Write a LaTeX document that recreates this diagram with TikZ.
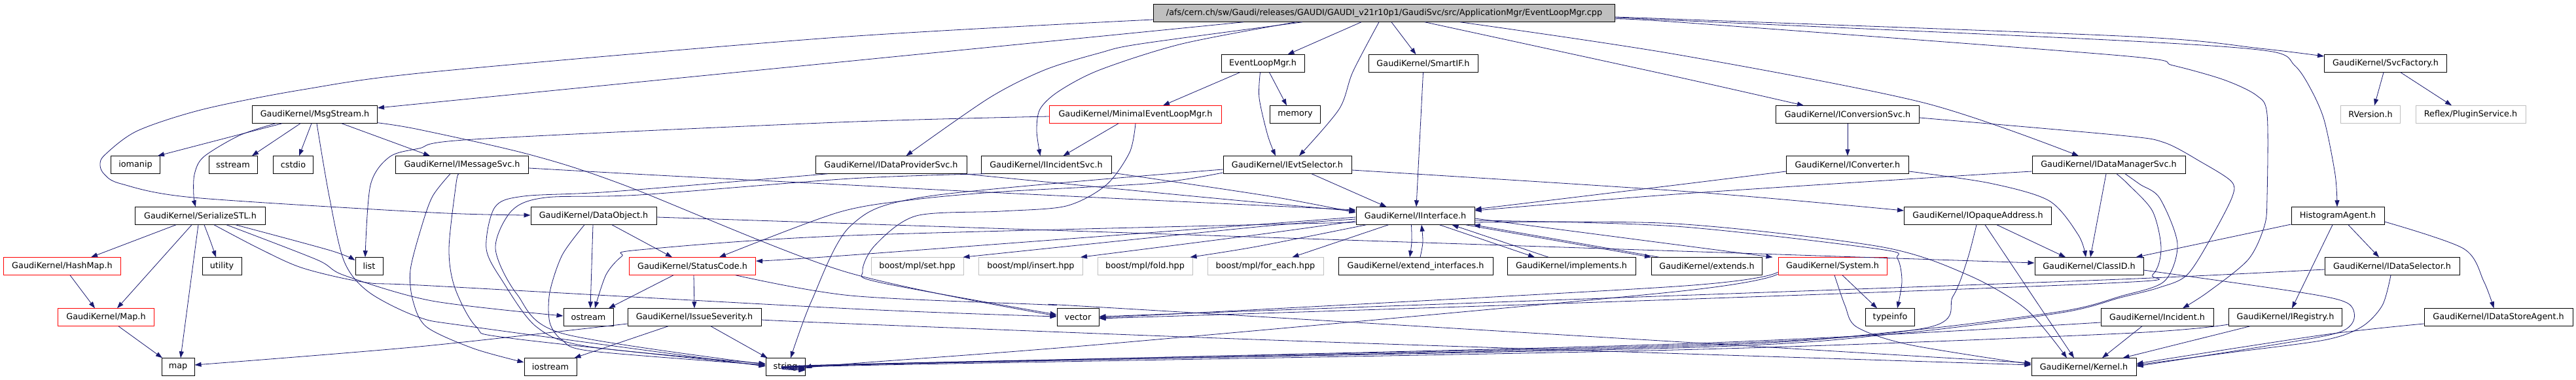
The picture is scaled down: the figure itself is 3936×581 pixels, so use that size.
\documentclass[tikz,border=0pt]{standalone}
\usepackage{fontspec}
\usetikzlibrary{arrows.meta}
\newfontfamily\nodefont{DejaVu Sans}
\definecolor{edgec}{HTML}{191970}
\definecolor{grayfill}{HTML}{BFBFBF}
\tikzset{
  nd/.style={draw=black, line width=1pt, inner sep=0pt, minimum height=26.5pt,
             font={\nodefont\fontsize{12.8pt}{15pt}\selectfont}, fill=white},
  rednd/.style={nd, draw=red},
  graynd/.style={nd, draw=grayfill},
  rootnd/.style={nd, fill=grayfill},
  e/.style={draw=edgec, line width=0.8pt, -{Triangle[length=10pt,width=7pt]}},
}
\begin{document}
\begin{tikzpicture}[x=1pt,y=-1pt]
\useasboundingbox (0,0) rectangle (3936,581);
% ---------- nodes ----------
\node[rootnd, minimum width=705pt] (root) at (2115,20) {/afs/cern.ch/sw/Gaudi/releases/GAUDI/GAUDI\_v21r10p1/GaudiSvc/src/ApplicationMgr/EventLoopMgr.cpp};
\node[nd, minimum width=127pt] (elm) at (1929.5,97) {EventLoopMgr.h};
\node[nd, minimum width=167pt] (smartif) at (2174.5,97) {GaudiKernel/SmartIF.h};
\node[nd, minimum width=187pt] (svcf) at (3645,97) {GaudiKernel/SvcFactory.h};
\node[nd, minimum width=191pt] (msgs) at (481,175) {GaudiKernel/MsgStream.h};
\node[rednd, minimum width=263pt] (melm) at (1735,175) {GaudiKernel/MinimalEventLoopMgr.h};
\node[nd, minimum width=77pt] (memory) at (1979,175) {memory};
\node[nd, minimum width=219pt] (iconv) at (2823,175) {GaudiKernel/IConversionSvc.h};
\node[graynd, minimum width=91pt] (rver) at (3622,175) {RVersion.h};
\node[graynd, minimum width=168pt] (plugin) at (3775,175) {Reflex/PluginService.h};
\node[nd, minimum width=75pt] (iomanip) at (207,252) {iomanip};
\node[nd, minimum width=74pt] (sstream) at (356,252) {sstream};
\node[nd, minimum width=61pt] (cstdio) at (448,252) {cstdio};
\node[nd, minimum width=203pt] (imsg) at (706,252) {GaudiKernel/IMessageSvc.h};
\node[nd, minimum width=231pt] (idp) at (1361.5,252) {GaudiKernel/IDataProviderSvc.h};
\node[nd, minimum width=199pt] (iinc) at (1598.5,252) {GaudiKernel/IIncidentSvc.h};
\node[nd, minimum width=196pt] (ievt) at (1967,252) {GaudiKernel/IEvtSelector.h};
\node[nd, minimum width=187pt] (iconverter) at (2823,252) {GaudiKernel/IConverter.h};
\node[nd, minimum width=234pt] (idm) at (3222,252) {GaudiKernel/IDataManagerSvc.h};
\node[nd, minimum width=199pt] (ser) at (306,330) {GaudiKernel/SerializeSTL.h};
\node[nd, minimum width=192pt] (dobj) at (907,330) {GaudiKernel/DataObject.h};
\node[nd, minimum width=181pt] (iif) at (2162.5,330) {GaudiKernel/IInterface.h};
\node[nd, minimum width=225pt] (iopa) at (3022,330) {GaudiKernel/IOpaqueAddress.h};
\node[nd, minimum width=142pt] (hista) at (3572,330) {HistogramAgent.h};
\node[rednd, minimum width=179pt] (hashmap) at (95,407) {GaudiKernel/HashMap.h};
\node[nd, minimum width=60pt] (utility) at (339,407) {utility};
\node[nd, minimum width=42pt] (list) at (564,407) {list};
\node[rednd, minimum width=193pt] (sc) at (1058,407) {GaudiKernel/StatusCode.h};
\node[graynd, minimum width=141pt] (bset) at (1401.5,407) {boost/mpl/set.hpp};
\node[graynd, minimum width=159pt] (binsert) at (1575,407) {boost/mpl/insert.hpp};
\node[graynd, minimum width=145pt] (bfold) at (1749.5,407) {boost/mpl/fold.hpp};
\node[graynd, minimum width=177pt] (bforeach) at (1933.5,407) {boost/mpl/for\_each.hpp};
\node[nd, minimum width=236pt] (extif) at (2163,407) {GaudiKernel/extend\_interfaces.h};
\node[nd, minimum width=196pt] (impl) at (2401,407) {GaudiKernel/implements.h};
\node[nd, minimum width=169pt] (extends) at (2608,407) {GaudiKernel/extends.h};
\node[rednd, minimum width=166pt] (system) at (2800,407) {GaudiKernel/System.h};
\node[nd, minimum width=166pt] (classid) at (3192,407) {GaudiKernel/ClassID.h};
\node[nd, minimum width=206pt] (idsel) at (3655,407) {GaudiKernel/IDataSelector.h};
\node[rednd, minimum width=147pt] (mapH) at (162,485) {GaudiKernel/Map.h};
\node[nd, minimum width=76pt] (ostream) at (899,485) {ostream};
\node[nd, minimum width=204pt] (issue) at (1061,485) {GaudiKernel/IssueSeverity.h};
\node[nd, minimum width=64pt] (vector) at (1647,485) {vector};
\node[nd, minimum width=75pt] (typeinfo) at (2888,485) {typeinfo};
\node[nd, minimum width=172pt] (incident) at (3296,485) {GaudiKernel/Incident.h};
\node[nd, minimum width=173pt] (ireg) at (3492,485) {GaudiKernel/IRegistry.h};
\node[nd, minimum width=227pt] (idsa) at (3817.5,485) {GaudiKernel/IDataStoreAgent.h};
\node[nd, minimum width=50pt] (map) at (272,561) {map};
\node[nd, minimum width=80pt] (iostream) at (841,561) {iostream};
\node[nd, minimum width=60pt] (string) at (1200,561) {string};
\node[nd, minimum width=160pt] (kernel) at (3184,561) {GaudiKernel/Kernel.h};
% ---------- edges ----------
% root
\draw[e] ([xshift=-215pt]root.south) -- ([yshift=10pt]msgs.east);
\draw[e] plot[smooth] coordinates {([yshift=-10pt]root.west) (1280,57) (660,110) (463,137) (311,167) (210,200) (160,237) (153,253) (160,267) (185,281) (295,302) (660,325) ([yshift=1pt]dobj.west)};
\draw[e] plot[smooth] coordinates {([yshift=-6pt]root.east) (2580,30) (3260,56) (3453,74) ([yshift=11pt]svcf.west)};
\draw[e] plot[smooth] coordinates {([yshift=-7pt]root.east) (2580,32) (3240,62) (3466,78) (3506,100) (3529,133) (3551,183) (3568,267) ([xshift=-1pt]hista.north)};
\draw[e] plot[smooth] coordinates {([yshift=-9pt]root.east) (2580,35) (3240,85) (3320,100) (3398,122) (3448,146) (3464,175) (3464,300) (3460,345) (3435,397) (3373,447) ([xshift=39pt]incident.north)};
\draw[e] plot[smooth] coordinates {([xshift=116pt]root.south) (2560,83) (2939,157) ([xshift=-46pt]idm.north)};
\draw[e] plot[smooth] coordinates {([xshift=62pt]root.south) (2560,117) ([xshift=-67pt]iconv.north)};
\draw[e] ([xshift=-35pt]root.south) -- ([xshift=38pt]elm.north);
\draw[e] plot[smooth] coordinates {([xshift=-8pt]root.south) (2067,110) (2046,167) ([xshift=18pt]ievt.north)};
\draw[e] ([xshift=11pt]root.south) -- ([xshift=-11pt]smartif.north);
\draw[e] plot[smooth] coordinates {([xshift=-135pt]root.south) (1806,67) (1680,107) (1617,140) (1589,167) (1584,200) ([xshift=-9pt]iinc.north)};
\draw[e] plot[smooth] coordinates {([xshift=-125pt]root.south) (1743,67) (1680,81) (1596,107) (1511,150) ([xshift=23pt]idp.north)};
% EventLoopMgr.h
\draw[e] ([xshift=-35pt]elm.south) -- ([xshift=42pt]melm.north);
\draw[e] ([xshift=10pt]elm.south) -- ([xshift=-13pt]memory.north);
\draw[e] plot[smooth] coordinates {([xshift=-4pt]elm.south) (1924,150) (1937,207) ([xshift=-18pt]ievt.north)};
% MinimalEventLoopMgr.h
\draw[e] ([xshift=-26pt]melm.south) -- ([xshift=26pt]iinc.north);
\draw[e] plot[smooth] coordinates {([yshift=-3pt]melm.west) (1280,187) (724,213) (640,227) (595,240) (566,283) ([xshift=-6pt]list.north)};
\draw[e] plot[smooth] coordinates {(melm.south) (1726,233) (1690,283) (1629,315) (1530,323) (1400,330) (1337,375) (1318,415) (1345,432) ([yshift=4pt]vector.west)};
% SmartIF, SvcFactory
\draw[e] (smartif.south) -- ([xshift=1.5pt]iif.north);
\draw[e] ([xshift=-3pt]svcf.south) -- ([xshift=6pt]rver.north);
\draw[e] ([xshift=23pt]svcf.south) -- ([xshift=-29pt]plugin.north);
% MsgStream.h
\draw[e] ([xshift=-50pt]msgs.south) -- ([xshift=-4pt]iomanip.north east);
\draw[e] plot[smooth] coordinates {([xshift=-60pt]msgs.south) (366,207) (311,240) (297,267) (296,300) ([xshift=-7pt]ser.north)};
\draw[e] ([xshift=-22pt]msgs.south) -- ([xshift=29pt]sstream.north);
\draw[e] ([xshift=-5pt]msgs.south) -- ([xshift=9pt]cstdio.north);
\draw[e] plot[smooth] coordinates {([xshift=3pt]msgs.south) (503,300) (526,400) (564,447) (640,485) (724,500) ([yshift=1pt]string.west)};
\draw[e] ([xshift=41pt]msgs.south) -- ([xshift=-49pt]imsg.north);
\draw[e] plot[smooth] coordinates {([yshift=1pt]msgs.south east) (640,198) (808,236) (951,282) (1290,415) ([yshift=2pt]vector.west)};
% IMessageSvc.h
\draw[e] plot[smooth] coordinates {([yshift=-5pt]imsg.east) (1006,268) (1300,283) (1490,293) ([yshift=9pt]iif.west)};
\draw[e] plot[smooth] coordinates {([xshift=-18pt]imsg.south) (661,300) (644,347) (627,413) (631,460) (652,500) (724,533) ([yshift=7pt]iostream.west)};
\draw[e] plot[smooth] coordinates {([xshift=-5pt]imsg.south) (697,280) (686,380) (695,440) (728,500) (779,517) ([yshift=2pt]string.west)};
% DataObject.h
\draw[e] ([xshift=28pt]dobj.south) -- ([xshift=-31pt]sc.north);
\draw[e] ([xshift=-1pt]dobj.south) -- ([xshift=3pt]ostream.north);
\draw[e] plot[smooth] coordinates {([xshift=-14pt]dobj.south) (859,390) (840,447) (840,493) (859,520) (905,537) ([yshift=3pt]string.west)};
\draw[e] ([yshift=-2pt]dobj.east) -- ([yshift=5pt]classid.west);
% StatusCode.h
\draw[e] ([xshift=-29pt]sc.south) -- ([xshift=31pt]ostream.north);
\draw[e] ([xshift=2pt]sc.south) -- (issue.north);
\draw[e] plot[smooth] coordinates {([xshift=66pt]sc.south) (1300,452) (1600,466) (1720,472) ([yshift=6pt]kernel.west)};
% IssueSeverity.h
\draw[e] ([xshift=-40pt]issue.south) -- ([xshift=-4pt]iostream.north east);
\draw[e] ([xshift=25pt]issue.south) -- ([xshift=3pt]string.north west);
\draw[e] plot[smooth] coordinates {([yshift=-10pt]issue.west) (640,530) ([yshift=3pt]map.east)};
\draw[e] plot[smooth] coordinates {([yshift=-4pt]issue.east) (1300,495) (2000,522) ([yshift=3pt]kernel.west)};
% SerializeSTL.h
\draw[e] ([xshift=-37pt]ser.south) -- ([xshift=44pt]hashmap.north);
\draw[e] ([xshift=-13pt]ser.south) -- ([xshift=17pt]mapH.north);
\draw[e] ([xshift=-3pt]ser.south) -- ([xshift=4pt]map.north);
\draw[e] plot[smooth] coordinates {([xshift=6pt]ser.south) (322,370) ([xshift=-9pt]utility.north)};
\draw[e] plot[smooth] coordinates {([xshift=54pt]ser.south) (505,383) ([yshift=9pt]list.west)};
\draw[e] plot[smooth] coordinates {([xshift=40pt]ser.south) (484,397) (526,421) (660,460) ([yshift=2pt]ostream.west)};
\draw[e] plot[smooth] coordinates {([xshift=21pt]ser.south) (396,380) (463,410) (560,432) (660,437) (1300,472) ([yshift=1pt]vector.west)};
% HashMap, Map
\draw[e] ([xshift=12pt]hashmap.south) -- ([xshift=-17pt]mapH.north);
\draw[e] ([xshift=19pt]mapH.south) -- ([xshift=-24pt]map.north);
% IIncidentSvc.h
\draw[e] plot[smooth] coordinates {([yshift=-12pt]iinc.east) (1940,300) ([yshift=5pt]iif.west)};
\draw[e] plot[smooth] coordinates {([xshift=-94pt]iinc.south) (1300,273) (977,298) (834,302) (782,322) (757,380) (790,450) (860,510) ([yshift=4pt]string.west)};
% IDataProviderSvc.h
\draw[e] plot[smooth] coordinates {([xshift=110pt]idp.south) (1823,300) ([yshift=7pt]iif.west)};
\draw[e] plot[smooth] coordinates {([xshift=-97pt]idp.south) (935,293) (800,300) (756,317) (743,380) (768,430) (820,500) (900,530) ([yshift=5pt]string.west)};
% IEvtSelector.h
\draw[e] ([xshift=37pt]ievt.south) -- ([xshift=-44pt]iif.north);
\draw[e] plot[smooth] coordinates {([yshift=-8pt]ievt.east) (2580,293) ([yshift=8pt]iopa.west)};
\draw[e] plot[smooth] coordinates {([yshift=-12pt]ievt.west) (1764,280) (1532,293) (1398,305) (1280,325) ([xshift=41pt]sc.north)};
\draw[e] plot[smooth] coordinates {([yshift=-7pt]ievt.west) (1419,300) (1300,345) (1240,460) ([xshift=8pt]string.north)};
% IConversionSvc.h
\draw[e] (iconv.south) -- (iconverter.north);
\draw[e] plot[smooth] coordinates {([yshift=-5pt]iconv.east) (3240,207) (3307,218) (3362,247) (3409,277) (3411,300) (3382,357) (3342,420) (3298,440) (3240,455) (3150,478) (2900,510) (2560,532) (1300,557) ([yshift=-1pt]string.east)};
% IConverter.h
\draw[e] plot[smooth] coordinates {([yshift=-10pt]iconverter.west) (2560,283) ([yshift=10pt]iif.east)};
\draw[e] plot[smooth] coordinates {([yshift=-10pt]iconverter.east) (3040,280) (3131,307) (3176,360) ([xshift=-5pt]classid.north)};
% IDataManagerSvc.h
\draw[e] plot[smooth] coordinates {([yshift=-10pt]idm.west) (2975,270) (2560,297) ([yshift=8pt]iif.east)};
\draw[e] ([xshift=-4pt]idm.south) -- ([xshift=2pt]classid.north);
\draw[e] plot[smooth] coordinates {([xshift=12pt]idm.south) (3252,282) (3289,323) (3302,380) (3289,420) (3240,432) (2560,458) ([yshift=-2pt]vector.east)};
\draw[e] plot[smooth] coordinates {([xshift=25pt]idm.south) (3270,282) (3300,303) (3327,373) (3307,430) (3240,453) (3150,476) (2900,507) (2560,530) (1300,558) ([yshift=-2pt]string.east)};
% IOpaqueAddress.h
\draw[e] ([xshift=29pt]iopa.south) -- ([xshift=-36pt]classid.north);
\draw[e] ([xshift=11pt]iopa.south) -- ([xshift=-15pt]kernel.north);
\draw[e] plot[smooth] coordinates {([xshift=-2pt]iopa.south) (3006,397) (2984,453) (2939,502) (2560,528) (1300,557) ([yshift=-3pt]string.east)};
% HistogramAgent.h
\draw[e] ([yshift=-13pt]hista.west) -- ([xshift=-12pt]classid.north east);
\draw[e] ([xshift=-8pt]hista.south) -- ([xshift=10pt]ireg.north);
\draw[e] ([xshift=16pt]hista.south) -- ([xshift=-20pt]idsel.north);
\draw[e] plot[smooth] coordinates {([yshift=-9pt]hista.east) (3764,380) (3795,430) ([xshift=-7pt]idsa.north)};
% IDataSelector.h
\draw[e] plot[smooth] coordinates {([yshift=-5pt]idsel.west) (3240,427) (2560,452) ([yshift=1pt]vector.east)};
\draw[e] plot[smooth] coordinates {([xshift=-2pt]idsel.south) (3640,467) (3608,500) (3551,520) (3400,540) ([yshift=3pt]kernel.east)};
% IRegistry.h
\draw[e] ([xshift=-54pt]ireg.south) -- ([xshift=-21pt]kernel.north east);
\draw[e] plot[smooth] coordinates {([yshift=-11pt]ireg.west) (3240,510) (2560,535) (1300,559) ([yshift=-4pt]string.east)};
% Incident.h
\draw[e] ([xshift=-23pt]incident.south) -- ([xshift=28pt]kernel.north);
\draw[e] plot[smooth] coordinates {([yshift=-8pt]incident.west) (2560,526) (1300,558) ([yshift=-5pt]string.east)};
% IDataStoreAgent.h
\draw[e] plot[smooth] coordinates {([yshift=-10pt]idsa.west) (3550,512) ([yshift=5pt]kernel.east)};
% ClassID.h
\draw[e] plot[smooth] coordinates {([yshift=-6pt]classid.east) (3515,447) (3586,463) (3597,487) (3577,507) (3500,523) ([yshift=1pt]kernel.east)};
% System.h
\draw[e] ([xshift=15pt]system.south) -- ([xshift=-20pt]typeinfo.north);
\draw[e] plot[smooth] coordinates {([xshift=3pt]system.south) (2819,467) (2837,500) (2917,527) ([yshift=4pt]kernel.west)};
\draw[e] plot[smooth] coordinates {([yshift=-9pt]system.west) (2560,438) ([yshift=-1pt]vector.east)};
\draw[e] plot[smooth] coordinates {([yshift=-12pt]system.west) (2560,446) (1700,525) (1300,556) ([yshift=-2pt]string.east)};
% IInterface.h
\draw[e] plot[smooth] coordinates {([yshift=-5pt]iif.west) (1920,347) ([xshift=-1pt]bset.north east)};
\draw[e] plot[smooth] coordinates {([yshift=-8pt]iif.west) (1920,359) ([xshift=-4pt]binsert.north east)};
\draw[e] plot[smooth] coordinates {([xshift=-75pt]iif.south) (1920,377) ([xshift=-4pt]bfold.north east)};
\draw[e] ([xshift=-41pt]iif.south) -- ([xshift=41pt]bforeach.north);
\draw[e] plot[smooth] coordinates {([xshift=-6pt]iif.south) (2157,370) ([xshift=-9pt]extif.north)};
\draw[e] plot[smooth] coordinates {([xshift=7pt]extif.north) (2174,370) ([xshift=9.5pt]iif.south)};
\draw[e] ([xshift=37pt]iif.south) -- ([xshift=-56pt]impl.north);
\draw[e] ([xshift=-35pt]impl.north) -- ([xshift=56pt]iif.south);
\draw[e] ([xshift=77pt]iif.south) -- (extends.north west);
\draw[e] ([xshift=12pt]extends.north west) -- ([xshift=-2pt]iif.south east);
\draw[e] ([yshift=-4pt]iif.east) -- ([xshift=-8pt]system.north west);
\draw[e] plot[smooth] coordinates {([yshift=-2pt]iif.west) (1300,390) ([yshift=8pt]sc.east)};
\draw[e] plot[smooth] coordinates {([yshift=-10pt]iif.west) (1300,360) (977,382) (950,392) (926,420) ([xshift=10pt]ostream.north)};
\draw[e] plot[smooth] coordinates {([yshift=-10pt]iif.east) (2560,342) (2872,377) (3006,420) (3096,473) ([xshift=-26pt]kernel.north)};
\draw[e] plot[smooth] coordinates {([yshift=-7pt]iif.east) (2560,346) (2872,381) (2899,395) (2906,430) ([xshift=11pt]typeinfo.north)};
\end{tikzpicture}
\end{document}
